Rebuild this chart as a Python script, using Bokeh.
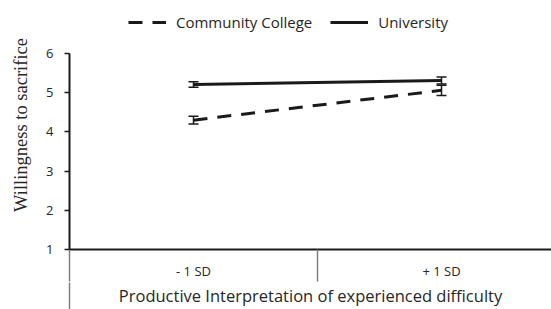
from bokeh.plotting import figure
from bokeh.models import (ColumnDataSource, Range1d, FixedTicker, LinearAxis,
                          Whisker, Legend, LegendItem)
from bokeh.embed import file_html
from bokeh.resources import INLINE

# ---- data ----
categories = ["- 1 SD", "+ 1 SD"]
community_college = [4.30, 5.06]
community_college_err = [0.10, 0.13]
university = [5.21, 5.31]
university_err = [0.07, 0.09]
y_ticks = [1, 2, 3, 4, 5, 6]

xs = list(range(len(categories)))
src_cc = ColumnDataSource(dict(
    x=xs, y=community_college,
    lo=[v - e for v, e in zip(community_college, community_college_err)],
    hi=[v + e for v, e in zip(community_college, community_college_err)]))
src_u = ColumnDataSource(dict(
    x=xs, y=university,
    lo=[v - e for v, e in zip(university, university_err)],
    hi=[v + e for v, e in zip(university, university_err)]))

TXT = "#262626"
FONT = "Open Sans"

p = figure(width=551, height=309, output_backend="svg", toolbar_location=None,
           x_range=Range1d(-0.5, 1.4435), y_range=Range1d(1, 7.352),
           x_axis_location=None, y_axis_location=None,
           min_border_left=69, min_border_right=0, min_border_top=0,
           min_border_bottom=60)
p.outline_line_color = None
p.xgrid.visible = False
p.ygrid.visible = False

# y axis
yax = LinearAxis(ticker=FixedTicker(ticks=y_ticks, minor_ticks=[]),
                 bounds=(1, 6),
                 axis_label="Willingness to sacrifice",
                 axis_label_text_font="Liberation Serif",
                 axis_label_text_font_size="18.5px",
                 axis_label_text_font_style="normal",
                 axis_label_text_color=TXT,
                 axis_label_standoff=12,
                 major_label_text_font=FONT,
                 major_label_text_font_size="13px",
                 major_label_text_color=TXT,
                 major_label_standoff=11,
                 axis_line_color="#1a1a1a", axis_line_width=2,
                 major_tick_line_color="#1a1a1a", major_tick_line_width=1.5,
                 major_tick_out=5, major_tick_in=0)
p.add_layout(yax, "left")

# x axis (categories)
xax = LinearAxis(ticker=FixedTicker(ticks=xs, minor_ticks=[-0.5, 0.5]),
                 major_label_overrides={i: c for i, c in zip(xs, categories)},
                 major_label_text_font=FONT,
                 major_label_text_font_size="13px",
                 major_label_text_color=TXT,
                 major_label_standoff=-20,
                 axis_line_color="#1a1a1a", axis_line_width=2,
                 major_tick_out=0, major_tick_in=0,
                 minor_tick_out=32, minor_tick_in=0,
                 minor_tick_line_color="#7f7f7f", minor_tick_line_width=1.5)
p.add_layout(xax, "below")

xax2 = LinearAxis(ticker=FixedTicker(ticks=[-0.5], minor_ticks=[]),
                  major_label_overrides={-0.5: " "},
                  major_label_text_font_size="1px",
                  major_label_standoff=0,
                  axis_line_color=None,
                  major_tick_out=30, major_tick_in=0,
                  major_tick_line_color="#7f7f7f", major_tick_line_width=1.5,
                  axis_label="Productive Interpretation of experienced difficulty",
                  axis_label_text_font=FONT,
                  axis_label_text_font_size="16.5px",
                  axis_label_text_font_style="normal",
                  axis_label_text_color=TXT,
                  axis_label_standoff=-33)
p.add_layout(xax2, "below")

# lines
l_cc = p.line("x", "y", source=src_cc, line_color="#1a1a1a", line_width=3,
              line_dash="14 10")
l_u = p.line("x", "y", source=src_u, line_color="#1a1a1a", line_width=3)

for s in (src_cc, src_u):
    w = Whisker(base="x", upper="hi", lower="lo", source=s,
                line_color="#1a1a1a", line_width=1.5)
    w.upper_head.size = 10
    w.lower_head.size = 10
    w.upper_head.line_color = "#1a1a1a"
    w.lower_head.line_color = "#1a1a1a"
    w.upper_head.line_width = 1.5
    w.lower_head.line_width = 1.5
    p.add_layout(w)

legend = Legend(items=[LegendItem(label="Community College", renderers=[l_cc]),
                       LegendItem(label="University", renderers=[l_u])],
                orientation="horizontal", location=(59, 217),
                border_line_color=None, background_fill_alpha=0,
                label_text_font=FONT, label_text_font_size="15px",
                label_text_color=TXT, glyph_width=38, glyph_height=14,
                label_standoff=10, spacing=18, padding=4, margin=0)
p.add_layout(legend)

open("out.html", "w").write(file_html(p, INLINE))
